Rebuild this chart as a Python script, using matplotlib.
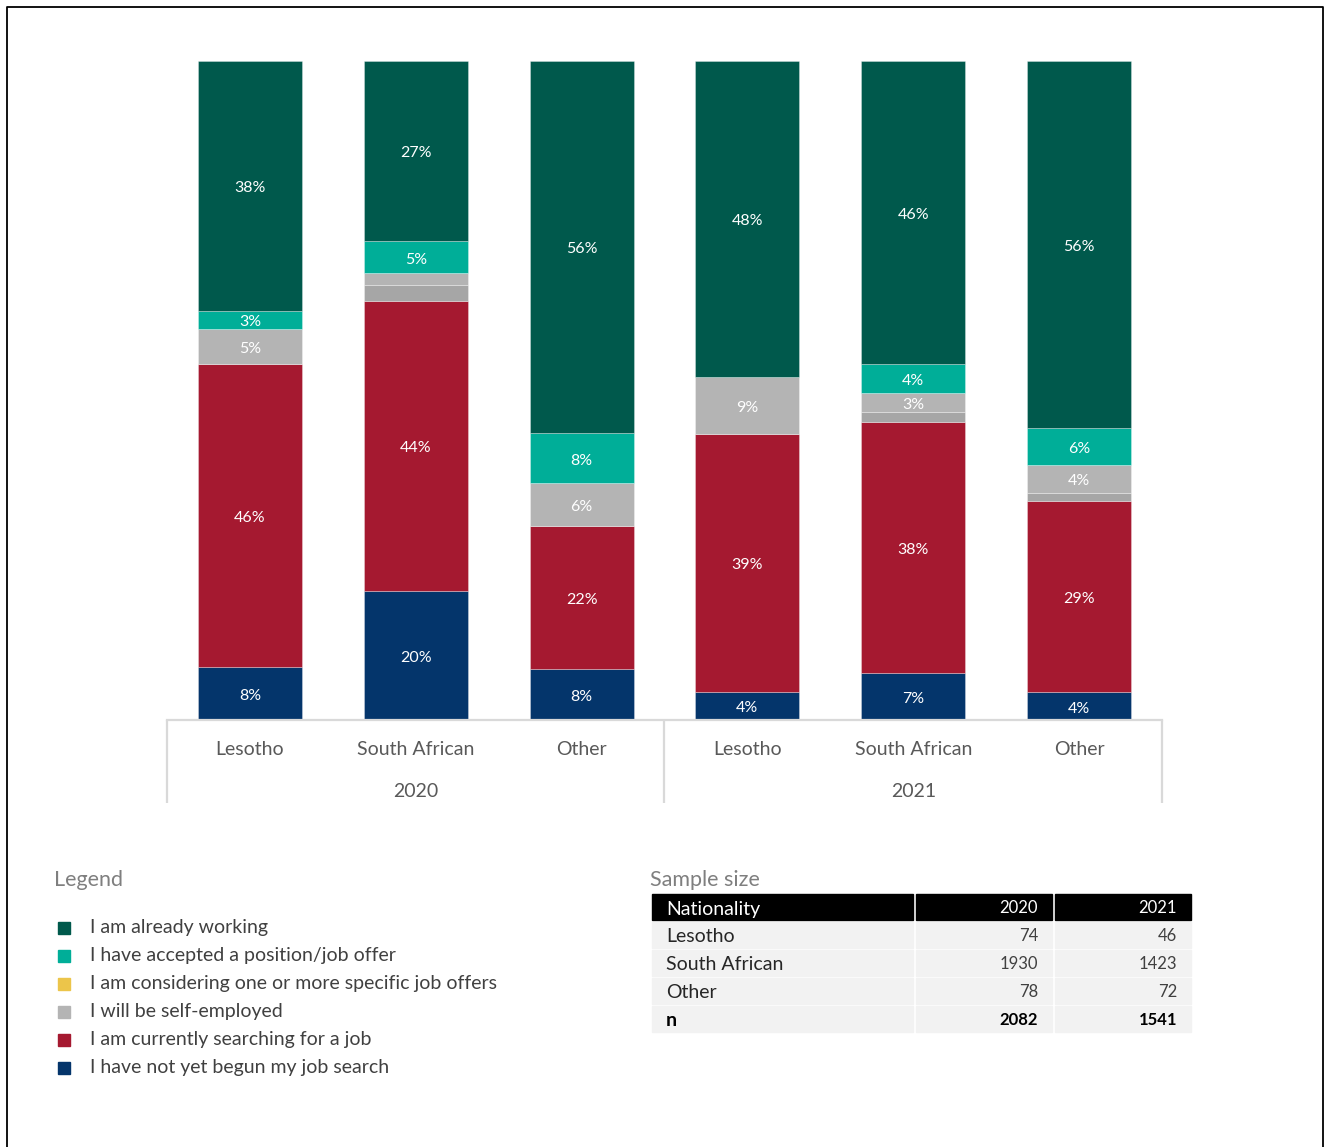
import matplotlib
matplotlib.use("Agg")
import matplotlib.pyplot as plt
import matplotlib.transforms as mtransforms
from matplotlib.patches import Rectangle
import numpy as np

plt.rcParams['font.family'] = ['Lato', 'DejaVu Sans']

# ---- data -------------------------------------------------------------
groups = ["Lesotho", "South African", "Other", "Lesotho", "South African", "Other"]
years = ["2020", "2021"]

# shares (%) per group, stacked bottom to top
not_begun = [8.1, 19.6, 7.7, 4.3, 7.1, 4.2]
searching = [45.9, 44.0, 21.8, 39.1, 38.1, 29.1]
other_plans = [0.0, 2.4, 0.0, 0.0, 1.5, 1.2]
self_employed = [5.4, 1.8, 6.4, 8.7, 2.9, 4.2]
considering = [0.0, 0.0, 0.0, 0.0, 0.0, 0.0]
accepted = [2.7, 4.9, 7.7, 0.0, 4.4, 5.6]
working = [37.9, 27.3, 56.4, 47.9, 46.0, 55.7]

series_names = [
    "I have not yet begun my job search",
    "I am currently searching for a job",
    "Other plans",
    "I will be self-employed",
    "I am considering one or more specific job offers",
    "I have accepted a position/job offer",
    "I am already working",
]
series_values = [not_begun, searching, other_plans, self_employed,
                 considering, accepted, working]
series_colors = ["#04356b", "#a51930", "#a6a6a6", "#b4b4b4",
                 "#ecc54a", "#00ae98", "#00594c"]
labelled = [True, True, False, True, True, True, True]

legend_order = [6, 5, 4, 3, 1, 0]

table_rows = ["Lesotho", "South African", "Other"]
n_2020 = [74, 1930, 78]
n_2021 = [46, 1423, 72]

# ---- figure -----------------------------------------------------------
W, H = 1326, 1147
fig = plt.figure(figsize=(W / 100, H / 100), dpi=100)

ax = fig.add_axes([167 / W, 1 - 720 / H, 995 / W, 659 / H])
x = np.arange(len(groups))
bottom = np.zeros(len(groups))
label_shift = -2.5 / 6.59  # nudge labels slightly below the segment centre
for name, vals, col, lab in zip(series_names, series_values, series_colors, labelled):
    vals = np.array(vals, dtype=float)
    ax.bar(x, vals, width=0.627, bottom=bottom, color=col,
           edgecolor=(1, 1, 1, 0.35), linewidth=0.6, label=name, zorder=2)
    if lab:
        for xi, b, v in zip(x, bottom, vals):
            if v >= 2.5:
                ax.text(xi, b + v / 2 + label_shift, f"{round(v):.0f}%",
                        ha="center", va="center", color="white",
                        fontsize=11.5, zorder=3)
    bottom += vals

ax.set_xlim(-0.5, 5.5)
ax.set_ylim(0, 100)
for s in ["top", "right", "left"]:
    ax.spines[s].set_visible(False)
ax.spines["bottom"].set_color("#d9d9d9")
ax.spines["bottom"].set_linewidth(1.6)
ax.set_yticks([])
ax.set_xticks([])

trans = mtransforms.blended_transform_factory(ax.transData, ax.transAxes)
for xi, g in zip(x, groups):
    ax.text(xi, -29.5 / 659, g, transform=trans, ha="center", va="center",
            fontsize=14, color="#595959")
for i, yr in enumerate(years):
    ax.text(1 + 3 * i, -71.5 / 659, yr, transform=trans, ha="center", va="center",
            fontsize=14, color="#595959")
for xs in [-0.5, 2.5, 5.5]:
    ax.plot([xs, xs], [0, -83 / 659], transform=trans, color="#d9d9d9",
            lw=1.6, clip_on=False, solid_capstyle="butt")

# ---- overlay in pixel coordinates: frame, legend, table ----------------
ov = fig.add_axes([0, 0, 1, 1], zorder=5)
ov.set_xlim(0, W)
ov.set_ylim(H, 0)
ov.axis("off")
ov.patch.set_alpha(0)

ov.plot([7, 7, 1323, 1323], [H + 5, 7, 7, H + 5], color="black", lw=1.3,
        clip_on=False)

ov.text(54, 880, "Legend", fontsize=15.5, color="#7f7f7f", va="center", ha="left")
for k, idx in enumerate(legend_order):
    yy = 928 + 28 * k
    ov.add_patch(Rectangle((58, yy - 6), 12, 12, color=series_colors[idx]))
    ov.text(90, yy, series_names[idx], fontsize=14, color="#404040",
            va="center", ha="left")

ov.text(650, 880, "Sample size", fontsize=15.5, color="#7f7f7f", va="center", ha="left")
cols = [(652, 913), (916, 1052), (1055, 1191)]
row_tops = [894, 922, 950, 978, 1006]
row_h = 26
for r, top in enumerate(row_tops):
    fc = "black" if r == 0 else "#f2f2f2"
    for (x0, x1) in cols:
        ov.add_patch(Rectangle((x0, top), x1 - x0, row_h, color=fc))

hdr_y = row_tops[0] + row_h / 2
ov.text(666, hdr_y + 2, "Nationality", fontsize=14, color="white", va="center")
ov.text(1038, hdr_y + 1, years[0], fontsize=12, color="white", va="center", ha="right")
ov.text(1177, hdr_y + 1, years[1], fontsize=12, color="white", va="center", ha="right")

for r, (name, a, b) in enumerate(zip(table_rows, n_2020, n_2021)):
    yy = row_tops[r + 1] + row_h / 2
    ov.text(666, yy + 2, name, fontsize=14, color="#262626", va="center")
    ov.text(1038, yy + 1, str(a), fontsize=12, color="#404040", va="center", ha="right")
    ov.text(1177, yy + 1, str(b), fontsize=12, color="#404040", va="center", ha="right")

yy = row_tops[4] + row_h / 2
ov.text(666, yy + 2, "n", fontsize=14, color="black", va="center", fontweight="bold")
ov.text(1038, yy + 1, str(sum(n_2020)), fontsize=12, color="black", va="center",
        ha="right", fontweight="bold")
ov.text(1177, yy + 1, str(sum(n_2021)), fontsize=12, color="black", va="center",
        ha="right", fontweight="bold")

fig.savefig("out.png", dpi=100, facecolor="white")
